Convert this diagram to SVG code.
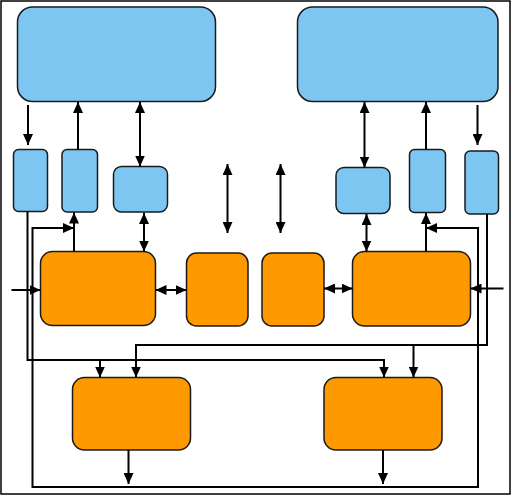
<svg xmlns="http://www.w3.org/2000/svg" width="512" height="496" viewBox="0 0 512 496">
<style>
.blue{fill:#7DC6F2;stroke:#1a1a1a;stroke-width:1.5}
.orange{fill:#FF9900;stroke:#1a1a1a;stroke-width:1.5}
.c{fill:none;stroke:#000;stroke-width:2}
.a{marker-end:url(#ah)}
.b{marker-start:url(#ah);marker-end:url(#ah)}
</style>
<defs>
<marker id="ah" markerUnits="userSpaceOnUse" markerWidth="12" markerHeight="10" refX="11" refY="5" orient="auto-start-reverse">
<path d="M0,0 L11,5 L0,10 z" fill="#000"/>
</marker>
</defs>
<rect x="1" y="1" width="509" height="493" fill="#fff" stroke="#000" stroke-width="1.5"/>
<g id="top-left"><rect class="blue" x="17.5" y="7" width="198" height="94.5" rx="15"/></g>
<g id="top-right"><rect class="blue" x="297.5" y="7" width="200.5" height="94.5" rx="15"/></g>
<g id="s1"><rect class="blue" x="13.5" y="149.5" width="34" height="62" rx="5"/></g>
<g id="s2"><rect class="blue" x="62" y="149.5" width="35.5" height="62.5" rx="5"/></g>
<g id="s3"><rect class="blue" x="113.5" y="166.5" width="54" height="45.5" rx="8"/></g>
<g id="s4"><rect class="blue" x="336" y="167.5" width="54" height="46" rx="8"/></g>
<g id="s5"><rect class="blue" x="409.5" y="149.5" width="36" height="63" rx="5"/></g>
<g id="s6"><rect class="blue" x="465" y="151" width="33.5" height="63" rx="5"/></g>
<g id="o1"><rect class="orange" x="40.5" y="251.5" width="115" height="74" rx="12"/></g>
<g id="o2"><rect class="orange" x="186.5" y="253" width="61.5" height="73" rx="10"/></g>
<g id="o3"><rect class="orange" x="262" y="253" width="62" height="73" rx="10"/></g>
<g id="o4"><rect class="orange" x="352.5" y="251.5" width="118" height="74.5" rx="12"/></g>
<g id="b1"><rect class="orange" x="72.5" y="377.5" width="118" height="72.5" rx="12"/></g>
<g id="b2"><rect class="orange" x="324" y="377.5" width="118" height="72.5" rx="12"/></g>
<g id="connectors">
<line class="c a" x1="28" y1="105" x2="28" y2="145"/>
<line class="c a" x1="78" y1="149.5" x2="78" y2="102"/>
<line class="c b" x1="140" y1="102" x2="140" y2="166.5"/>
<line class="c b" x1="227.5" y1="164" x2="227.5" y2="233"/>
<line class="c b" x1="280.5" y1="164" x2="280.5" y2="233"/>
<line class="c b" x1="364.5" y1="102" x2="364.5" y2="167.5"/>
<line class="c a" x1="426" y1="149.5" x2="426" y2="102"/>
<line class="c a" x1="477.5" y1="105" x2="477.5" y2="145"/>
<line class="c b" x1="144" y1="213" x2="144" y2="251.5"/>
<line class="c b" x1="366.5" y1="214" x2="366.5" y2="251.5"/>
<line class="c a" x1="74" y1="251.5" x2="74" y2="212.5"/>
<line class="c a" x1="426" y1="251.5" x2="426" y2="213"/>
<line class="c a" x1="11.5" y1="290" x2="40.5" y2="290"/>
<line class="c b" x1="155.5" y1="290" x2="186.5" y2="290"/>
<line class="c b" x1="324" y1="288.5" x2="352.5" y2="288.5"/>
<line class="c a" x1="503.5" y1="288.5" x2="470.5" y2="288.5"/>
<polyline class="c b" points="74,228 32.5,228 32.5,487 478,487 478,228 426,228"/>
<polyline class="c a" points="27.5,211.5 27.5,360 384,360 384,377.5"/>
<line class="c a" x1="100" y1="360" x2="100" y2="377.5"/>
<polyline class="c a" points="487,214 487,345 136,345 136,377.5"/>
<line class="c a" x1="413.5" y1="345" x2="413.5" y2="377.5"/>
<line class="c a" x1="128.5" y1="450" x2="128.5" y2="484"/>
<line class="c a" x1="383" y1="450" x2="383" y2="484"/>
</g>
</svg>
